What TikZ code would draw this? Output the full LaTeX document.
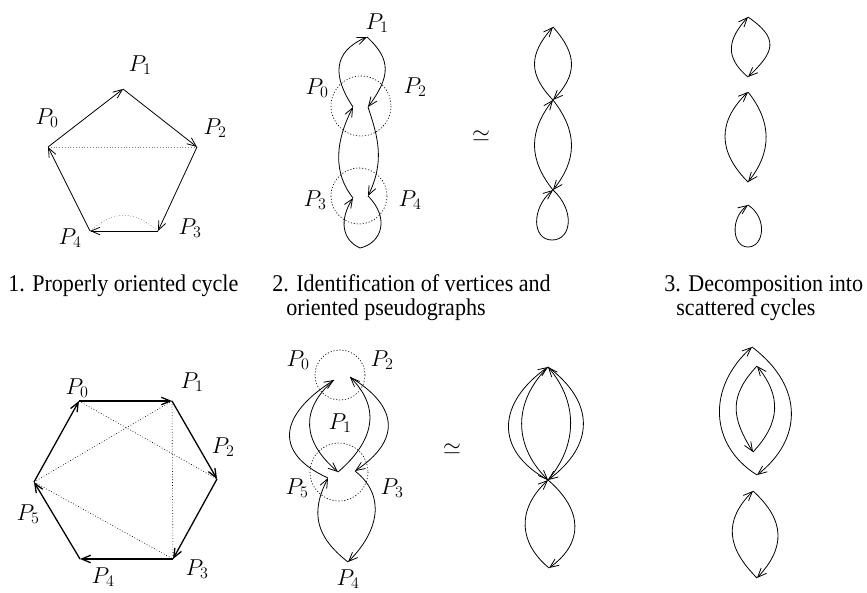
\RequirePackage{fix-cm}
\documentclass[tikz,border=0pt]{standalone}
\usepackage[no-math]{fontspec}
\setmainfont{Liberation Serif}
\newfontfamily\capfont{Liberation Serif}[FakeStretch=0.92]
\usetikzlibrary{arrows.meta}
\begin{document}
\begin{tikzpicture}[x=1pt,y=-1pt,
  line width=0.8pt,
  arr/.style={-{Straight Barb[length=9pt,width=7.5pt]}},
  thick6/.style={line width=1.3pt},
  lab/.style={font=\fontsize{23}{23}\selectfont, inner sep=0pt},
  captxt/.style={font=\capfont\fontsize{24}{28}\selectfont, inner sep=0pt, anchor=base west},
  dcirc/.style={line width=0.6pt, dash pattern=on 1.2pt off 1.8pt},
  diag/.style={line width=0.6pt, dash pattern=on 0.8pt off 2pt}]
\useasboundingbox (0,0) rectangle (867,592);

% ---------- Panel 1 top: pentagon
\coordinate (a0) at (48,147);
\coordinate (a1) at (123,89);
\coordinate (a2) at (197,147);
\coordinate (a3) at (158,231);
\coordinate (a4) at (90,231);
\draw[diag, gray] (a0) -- (a2);
\draw[diag, gray] (a4) .. controls +(25,-21) and +(-25,-21) .. (a3);
\draw[arr] (a0) -- (a1);
\draw[arr] (a1) -- (a2);
\draw[arr] (a2) -- (a3);
\draw[arr] (a3) -- (a4);
\draw[arr] (a4) -- (a0);
\node[lab] (la0) at (47,118) {$P_0$};
\node[lab] (la1) at (140,65) {$P_1$};
\node[lab] (la2) at (215,128) {$P_2$};
\node[lab] (la3) at (190,228) {$P_3$};
\node[lab] (la4) at (70,238) {$P_4$};

% ---------- Panel 2 top
\coordinate (b1) at (367,37);
\coordinate (b0) at (353,107);
\coordinate (b2) at (368,107);
\coordinate (b3) at (353,198);
\coordinate (b4) at (368,196);
\coordinate (bb) at (360,248);
\coordinate (bc1) at (361,106);
\coordinate (bc2) at (359,196);
\draw[dcirc] (bc1) circle[radius=30];
\draw[dcirc] (bc2) circle[radius=28];
\draw[arr] (b0) .. controls +(-20,-30) and +(-35,15) .. (b1);
\draw[arr] (b1) .. controls +(25,23) and +(22,-30) .. (b2);
\draw[arr] (b2) .. controls +(10,30) and +(17,-35) .. (b4);
\draw[arr] (b3) .. controls +(-20,-25) and +(-18,35) .. (b0);
\draw[arr] (b4) .. controls +(22,22) and +(22,-5) .. (bb)
               .. controls +(-18,-8) and +(-14,22) .. (b3);
\node[lab] (lb1) at (377,23) {$P_1$};
\node[lab] (lb0) at (317,88) {$P_0$};
\node[lab] (lb2) at (415,87) {$P_2$};
\node[lab] (lb3) at (315,200) {$P_3$};
\node[lab] (lb4) at (410,200) {$P_4$};

\node[lab] (eq1) at (481,136) {$\simeq$};

% ---------- Panel 3 top
\coordinate (c1) at (553,27);
\coordinate (c2) at (553,100);
\coordinate (c3) at (553,190);
\coordinate (c4) at (552,240);
\draw[arr] (c2) .. controls +(-24,-25) and +(-25,28) .. (c1);
\draw[arr] (c1) .. controls +(25,28) and +(24,-25) .. (c2);
\draw[arr] (c3) .. controls +(-24,-30) and +(-25,32) .. (c2);
\draw[arr] (c2) .. controls +(25,32) and +(24,-30) .. (c3);
\draw[arr] (c3) .. controls +(22,20) and +(20,0) .. (c4)
               .. controls +(-20,0) and +(-22,18) .. (c3);

% ---------- Panel 4 top
\coordinate (d1) at (748,17);
\coordinate (d2) at (748,77);
\coordinate (d3) at (748,92);
\coordinate (d4) at (748,182);
\coordinate (d5) at (748,205);
\coordinate (d6) at (748,247);
\draw[arr] (d2) .. controls +(-24,-20) and +(-20,22) .. (d1);
\draw[arr] (d1) .. controls +(32,22) and +(26,-25) .. (d2);
\draw[arr] (d4) .. controls +(-30,-30) and +(-31,30) .. (d3);
\draw[arr] (d3) .. controls +(24,30) and +(24,-30) .. (d4);
\draw[arr] (d5) .. controls +(20,13) and +(16,0) .. (d6)
               .. controls +(-16,0) and +(-18,13) .. (d5);

% ---------- Panel 1 bottom: hexagon
\coordinate (e0) at (79,401);
\coordinate (e1) at (172,401);
\coordinate (e2) at (217,479);
\coordinate (e3) at (173,559);
\coordinate (e4) at (80,559);
\coordinate (e5) at (34,482);
\draw[diag] (e0) -- (e2);
\draw[diag] (e5) -- (e1);
\draw[diag] (e1) -- (e3);
\draw[diag] (e5) -- (e3);
\draw[thick6,arr] (e0) -- (e1);
\draw[thick6,arr] (e1) -- (e2);
\draw[thick6,arr] (e2) -- (e3);
\draw[thick6,arr] (e3) -- (e4);
\draw[thick6,arr] (e4) -- (e5);
\draw[thick6,arr] (e5) -- (e0);
\node[lab] (le0) at (77,388) {$P_0$};
\node[lab] (le1) at (192,382) {$P_1$};
\node[lab] (le2) at (223,447) {$P_2$};
\node[lab] (le3) at (197,569) {$P_3$};
\node[lab] (le4) at (103,577) {$P_4$};
\node[lab] (le5) at (28,514) {$P_5$};

% ---------- Panel 2 bottom
\coordinate (f0) at (334,380);
\coordinate (f2) at (350,377);
\coordinate (f1) at (338,472);
\coordinate (f5) at (328,478);
\coordinate (f3) at (355,471);
\coordinate (f4) at (348,562);
\coordinate (fc1) at (340,375);
\coordinate (fc2) at (339,472);
\draw[dcirc] (fc1) circle[radius=25];
\draw[dcirc] (fc2) circle[radius=29];
\draw[arr] (f5) .. controls +(-55,-25) and +(-55,35) .. (f0);
\draw[arr] (f0) .. controls +(-35,30) and +(-35,-30) .. (f1);
\draw[arr] (f1) .. controls +(35,-30) and +(32,32) .. (f2);
\draw[arr] (f2) .. controls +(50,30) and +(45,-30) .. (f3);
\draw[arr] (f3) .. controls +(32,25) and +(30,-30) .. (f4);
\draw[arr] (f4) .. controls +(-32,-25) and +(-18,35) .. (f5);
\node[lab] (lf0) at (298,360) {$P_0$};
\node[lab] (lf2) at (382,360) {$P_2$};
\node[lab] (lf1) at (340,423) {$P_1$};
\node[lab] (lf5) at (297,488) {$P_5$};
\node[lab] (lf3) at (392,488) {$P_3$};
\node[lab] (lf4) at (348,579) {$P_4$};

\node[lab] (eq2) at (452,449) {$\simeq$};

% ---------- Panel 3 bottom
\coordinate (g1) at (548,367);
\coordinate (g2) at (548,480);
\coordinate (g3) at (549,568);
\draw[arr] (g2) .. controls +(-55,-30) and +(-50,35) .. (g1);
\draw[arr] (g1) .. controls +(-35,35) and +(-35,-35) .. (g2);
\draw[arr] (g2) .. controls +(30,-35) and +(30,35) .. (g1);
\draw[arr] (g1) .. controls +(47,35) and +(47,-35) .. (g2);
\draw[arr] (g2) .. controls +(35,30) and +(35,-25) .. (g3);
\draw[arr] (g3) .. controls +(-30,-25) and +(-32,30) .. (g2);

% ---------- Panel 4 bottom
\coordinate (h1) at (752,347);
\coordinate (h2) at (757,475);
\coordinate (h3) at (757,366);
\coordinate (h4) at (753,452);
\coordinate (h5) at (753,491);
\coordinate (h6) at (757,578);
\draw[arr] (h2) .. controls +(-48,-30) and +(-45,40) .. (h1);
\draw[arr] (h1) .. controls +(53,40) and +(45,-35) .. (h2);
\draw[arr] (h3) .. controls +(-28,30) and +(-22,-35) .. (h4);
\draw[arr] (h4) .. controls +(28,-30) and +(24,30) .. (h3);
\draw[arr] (h6) .. controls +(-30,-30) and +(-30,30) .. (h5);
\draw[arr] (h5) .. controls +(33,30) and +(28,-30) .. (h6);

% ---------- Captions
\node[captxt] (cap1) at (8,291) {1. Properly oriented cycle};
\node[captxt] (cap2a) at (272,291) {2. Identification of vertices and};
\node[captxt] (cap2b) at (286,315) {oriented pseudographs};
\node[captxt] (cap3a) at (664,291) {3. Decomposition into};
\node[captxt] (cap3b) at (676,315) {scattered cycles};
\end{tikzpicture}
\end{document}
